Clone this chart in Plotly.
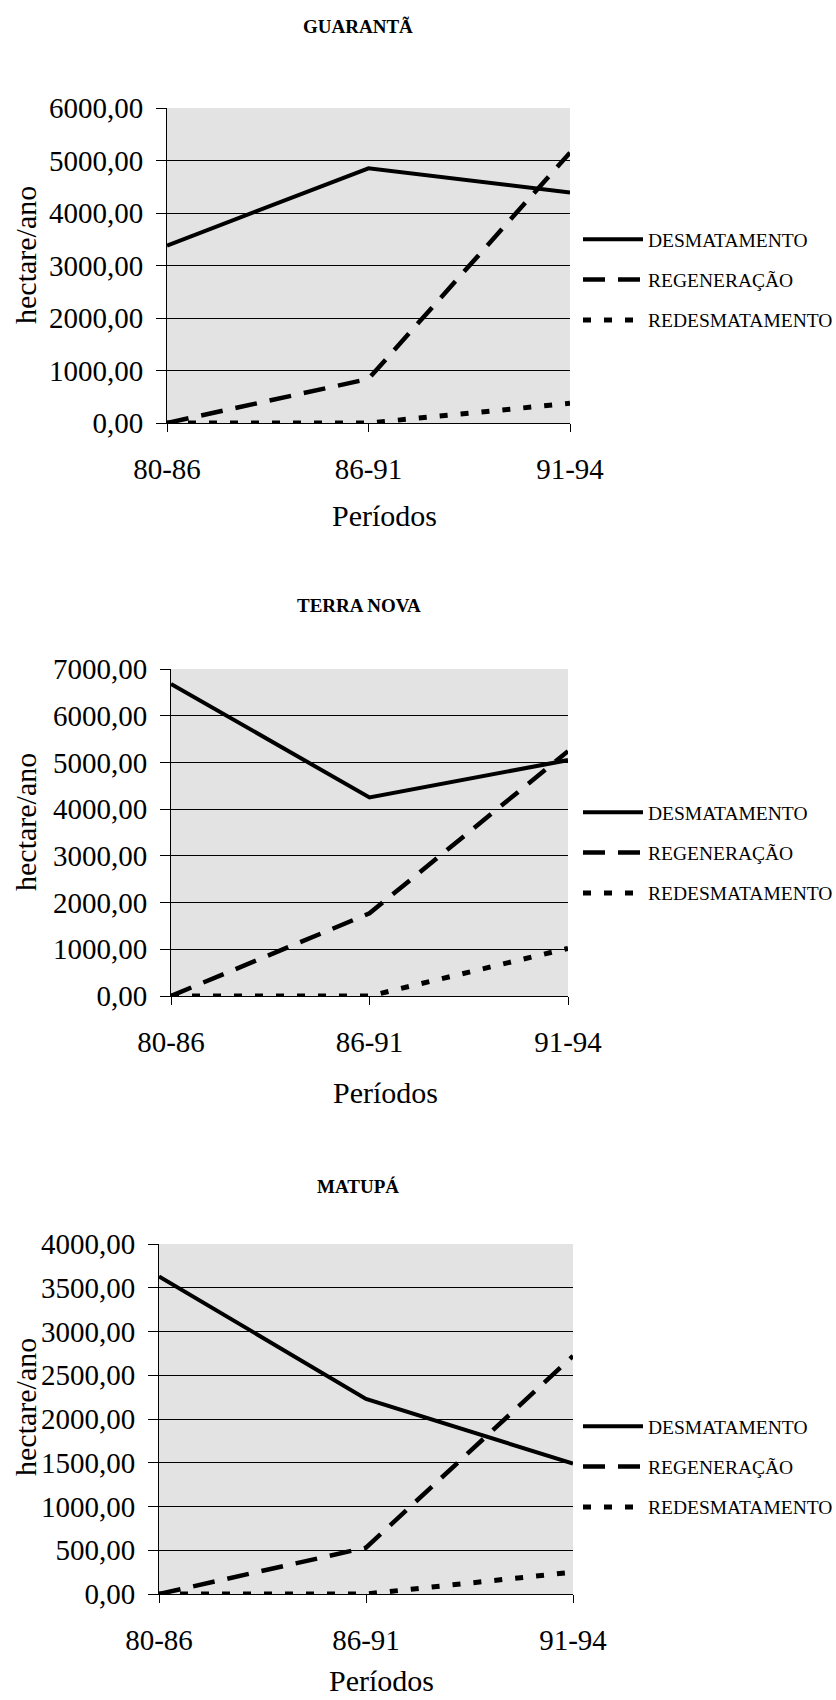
import plotly.graph_objects as go

# Periods (categories) shared by all three municipalities
periodos = ["80-86", "86-91", "91-94"]

# Series names
serie_nomes = ["DESMATAMENTO", "REGENERAÇÃO", "REDESMATAMENTO"]

# Guarantã (hectare/ano)
guaranta_desmatamento = [3380, 4850, 4390]
guaranta_regeneracao = [0, 840, 5150]
guaranta_redesmatamento = [0, 0, 375]

# Terra Nova (hectare/ano)
terranova_desmatamento = [6680, 4250, 5050]
terranova_regeneracao = [0, 1770, 5240]
terranova_redesmatamento = [0, 0, 1020]

# Matupá (hectare/ano)
matupa_desmatamento = [3630, 2230, 1490]
matupa_regeneracao = [0, 530, 2720]
matupa_redesmatamento = [0, 0, 250]

titulos = ["GUARANTÃ", "TERRA NOVA", "MATUPÁ"]
y_max = [6000, 7000, 4000]
y_passo = [1000, 1000, 500]

W, H = 836, 1700
FONT = "Liberation Serif, Times New Roman, serif"

# plot-area boxes in pixels: (left, right, top, bottom)
boxes = [(167, 570, 108, 423), (171, 568, 669, 996), (159, 573, 1244, 1594)]
title_pos = [(358, 27), (359, 605), (358, 1186)]
xtitle_pos = [(384, 516), (385, 1092), (381, 1680)]
ytitle_pos = [(25, 255), (25, 822), (25, 1407)]
legend_top = [220, 793, 1407]

dados = [
    [guaranta_desmatamento, guaranta_regeneracao, guaranta_redesmatamento],
    [terranova_desmatamento, terranova_regeneracao, terranova_redesmatamento],
    [matupa_desmatamento, matupa_regeneracao, matupa_redesmatamento],
]
estilos = [
    dict(color="black", width=4, dash="solid"),
    dict(color="black", width=4.5, dash="22px,13px"),
    dict(color="black", width=5, dash="8px,13px"),
]


def px_x(v):
    return v / W


def px_y(v):
    return 1 - v / H


fig = go.Figure()
annotations = []

for i in range(3):
    sfx = "" if i == 0 else str(i + 1)
    xa, ya, lg = "x" + sfx, "y" + sfx, "legend" + sfx
    for j, nome in enumerate(serie_nomes):
        fig.add_trace(go.Scatter(
            x=periodos, y=dados[i][j], name=nome, mode="lines",
            line=estilos[j], xaxis=xa, yaxis=ya, legend=lg,
            legendgroup=f"g{i}{j}", hoverinfo="skip",
        ))

    left, right, top, bottom = boxes[i]
    fig.update_layout({
        "xaxis" + sfx: dict(
            domain=[px_x(left), px_x(right)], anchor=ya,
            type="category", range=[0, 2], automargin=False,
            showgrid=False, zeroline=False,
            showline=True, linecolor="black", linewidth=1,
            ticks="outside", ticklen=8, tickcolor="black", tickwidth=1,
            ticklabelstandoff=12,
            tickfont=dict(family=FONT, size=29, color="black"),
        ),
        "yaxis" + sfx: dict(
            domain=[px_y(bottom), px_y(top)], anchor=xa,
            range=[0, y_max[i]], dtick=y_passo[i], tick0=0,
            tickformat=".2f", automargin=False,
            showgrid=True, gridcolor="black", gridwidth=1,
            zeroline=False,
            showline=True, linecolor="black", linewidth=1,
            ticks="outside", ticklen=10, tickcolor="black", tickwidth=1,
            ticklabelstandoff=7,
            tickfont=dict(family=FONT, size=29, color="black"),
        ),
        lg: dict(
            x=px_x(578), y=px_y(legend_top[i]), xanchor="left", yanchor="top",
            bgcolor="rgba(0,0,0,0)", borderwidth=0,
            font=dict(family=FONT, size=19.5, color="black"),
            tracegroupgap=12, itemwidth=60, traceorder="grouped",
        ),
    })

    tx, ty = title_pos[i]
    annotations.append(dict(
        text=f"<b>{titulos[i]}</b>", x=px_x(tx), y=px_y(ty),
        xref="paper", yref="paper", xanchor="center", yanchor="middle",
        showarrow=False, font=dict(family=FONT, size=19, color="black"),
    ))
    xx, xy = xtitle_pos[i]
    annotations.append(dict(
        text="Períodos", x=px_x(xx), y=px_y(xy),
        xref="paper", yref="paper", xanchor="center", yanchor="middle",
        showarrow=False, font=dict(family=FONT, size=30, color="black"),
    ))
    yx, yy = ytitle_pos[i]
    annotations.append(dict(
        text="hectare/ano", x=px_x(yx), y=px_y(yy), textangle=-90,
        xref="paper", yref="paper", xanchor="center", yanchor="middle",
        showarrow=False, font=dict(family=FONT, size=30, color="black"),
    ))

fig.update_layout(
    template="none",
    width=W, height=H,
    margin=dict(l=0, r=0, t=0, b=0, pad=0, autoexpand=False),
    paper_bgcolor="white",
    plot_bgcolor="#e3e3e3",
    separators=",.",
    showlegend=True,
    annotations=annotations,
)

fig.write_html("out.html")
